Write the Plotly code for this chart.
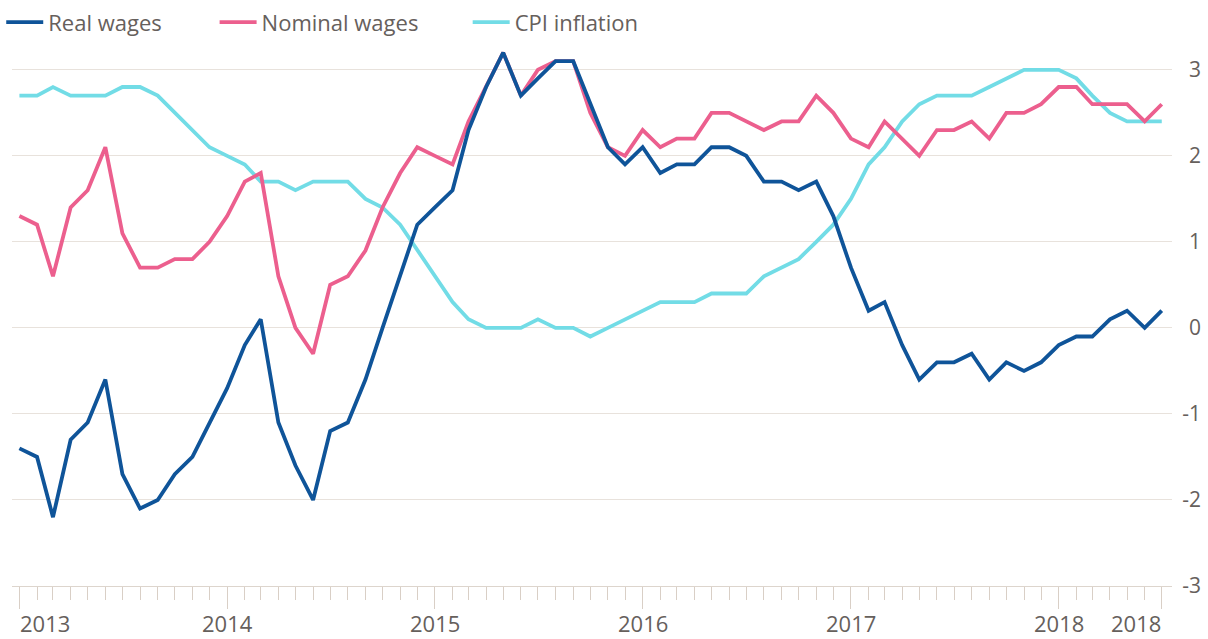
import pandas as pd
import plotly.graph_objects as go

months = pd.date_range("2013-01-01", periods=67, freq="MS")

real_wages = [-1.4, -1.5, -2.2, -1.3, -1.1, -0.6, -1.7, -2.1, -2.0, -1.7, -1.5, -1.1,
              -0.7, -0.2, 0.1, -1.1, -1.6, -2.0, -1.2, -1.1, -0.6, 0.0, 0.6, 1.2,
              1.4, 1.6, 2.3, 2.8, 3.2, 2.7, 2.9, 3.1, 3.1, 2.6, 2.1, 1.9,
              2.1, 1.8, 1.9, 1.9, 2.1, 2.1, 2.0, 1.7, 1.7, 1.6, 1.7, 1.3,
              0.7, 0.2, 0.3, -0.2, -0.6, -0.4, -0.4, -0.3, -0.6, -0.4, -0.5, -0.4,
              -0.2, -0.1, -0.1, 0.1, 0.2, 0.0, 0.2]

nominal_wages = [1.3, 1.2, 0.6, 1.4, 1.6, 2.1, 1.1, 0.7, 0.7, 0.8, 0.8, 1.0,
                 1.3, 1.7, 1.8, 0.6, 0.0, -0.3, 0.5, 0.6, 0.9, 1.4, 1.8, 2.1,
                 2.0, 1.9, 2.4, 2.8, 3.2, 2.7, 3.0, 3.1, 3.1, 2.5, 2.1, 2.0,
                 2.3, 2.1, 2.2, 2.2, 2.5, 2.5, 2.4, 2.3, 2.4, 2.4, 2.7, 2.5,
                 2.2, 2.1, 2.4, 2.2, 2.0, 2.3, 2.3, 2.4, 2.2, 2.5, 2.5, 2.6,
                 2.8, 2.8, 2.6, 2.6, 2.6, 2.4, 2.6]

cpi_inflation = [2.7, 2.7, 2.8, 2.7, 2.7, 2.7, 2.8, 2.8, 2.7, 2.5, 2.3, 2.1,
                 2.0, 1.9, 1.7, 1.7, 1.6, 1.7, 1.7, 1.7, 1.5, 1.4, 1.2, 0.9,
                 0.6, 0.3, 0.1, 0.0, 0.0, 0.0, 0.1, 0.0, 0.0, -0.1, 0.0, 0.1,
                 0.2, 0.3, 0.3, 0.3, 0.4, 0.4, 0.4, 0.6, 0.7, 0.8, 1.0, 1.2,
                 1.5, 1.9, 2.1, 2.4, 2.6, 2.7, 2.7, 2.7, 2.8, 2.9, 3.0, 3.0,
                 3.0, 2.9, 2.7, 2.5, 2.4, 2.4, 2.4]

year_labels = ["2013", "2014", "2015", "2016", "2017", "2018", "2018"]
year_label_dates = ["2013-01-01", "2014-01-01", "2015-01-01", "2016-01-01",
                    "2017-01-01", "2018-01-01", "2018-07-01"]
y_ticks = [-3, -2, -1, 0, 1, 2, 3]
y_tick_text = ["-3", "-2", "-1", "0", "1", "2", "3"]

TEXT = "#66605c"
GRID = "#e8e2dc"
FONT = "'Open Sans', Lato, sans-serif"

fig = go.Figure()
series = [
    ("Real wages", real_wages, "#0f5499", "legend"),
    ("Nominal wages", nominal_wages, "#ec5f8e", "legend2"),
    ("CPI inflation", cpi_inflation, "#72dce6", "legend3"),
]
order = [2, 1, 0]
for k in order:
    name, vals, col, lg = series[k]
    fig.add_trace(go.Scatter(
        x=months, y=vals, mode="lines", name=name,
        line=dict(color=col, width=3.8), legend=lg,
    ))

for lab, d, anc in zip(year_labels, year_label_dates,
                       ["left", "center", "center", "center", "center", "center", "right"]):
    fig.add_annotation(x=d, xref="x", y=0, yref="paper", yanchor="top", yshift=-21,
                       borderpad=0, text=lab, showarrow=False, xanchor=anc,
                       font=dict(size=22, color=TEXT, family=FONT))

leg_common = dict(orientation="h", yanchor="middle", xanchor="left", itemwidth=37,
                  bgcolor="rgba(0,0,0,0)", font=dict(size=22, color=TEXT, family=FONT),
                  itemclick=False, itemdoubleclick=False)
fig.update_layout(
    width=1208, height=639,
    margin=dict(l=12, r=0, t=44, b=53, autoexpand=False),
    paper_bgcolor="white", plot_bgcolor="white",
    font=dict(family=FONT, color=TEXT),
    legend=dict(x=-0.009, y=1.04, **leg_common),
    legend2=dict(x=0.1694, y=1.04, **leg_common),
    legend3=dict(x=0.381, y=1.04, **leg_common),
    showlegend=True,
)
fig.update_xaxes(
    domain=[0, (1172 - 12) / (1208 - 12)],
    range=["2012-12-19", "2018-07-19"],
    tickvals=year_label_dates, showticklabels=False,
    ticks="outside", ticklen=22, tickcolor="#d9cfc6", tickwidth=1,
    minor=dict(dtick="M1", tick0="2013-01-01", ticks="outside", ticklen=13,
               tickcolor="#d9cfc6", tickwidth=1, showgrid=False),
    showgrid=False, showline=True, linecolor="#ddd5cd", linewidth=1, zeroline=False,
)
fig.update_yaxes(
    side="left", anchor="free", position=(1201 - 12) / (1208 - 12),
    range=[-3, 3.3], tickvals=y_ticks, ticktext=y_tick_text,
    tickfont=dict(size=21, color=TEXT, family=FONT),
    showgrid=True, gridcolor=GRID, gridwidth=1, zeroline=False, showline=False,
)
fig.write_html("out.html", config={"displayModeBar": False},
               post_script="document.body.style.margin='0';")
